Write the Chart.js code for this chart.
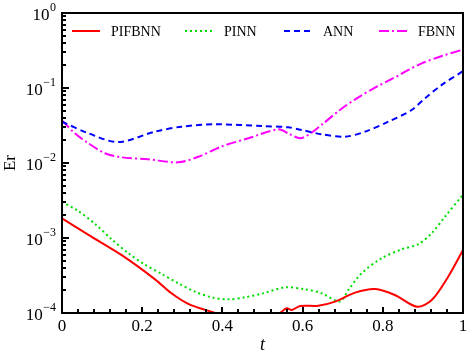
<!DOCTYPE html>
<html>
<head>
<meta charset="utf-8">
<script src="https://cdn.jsdelivr.net/npm/chart.js@4.4.0/dist/chart.umd.min.js"></script>
<style>
html,body{margin:0;padding:0;background:#fff;}
canvas{display:block;}
</style>
</head>
<body>
<canvas id="c" width="473" height="360"></canvas>
<script>
// ---- data ----
const seriesNames = ['PIFBNN', 'PINN', 'ANN', 'FBNN'];

const xPIFBNN = [0, 0.066, 0.149, 0.232, 0.273, 0.315, 0.357, 0.382, 0.42, 0.47, 0.51, 0.544, 0.56, 0.573, 0.594, 0.639, 0.681, 0.731, 0.781, 0.83, 0.885, 0.922, 0.963, 1.0];
const yPIFBNN = [1.83e-3, 1.10e-3, 5.9e-4, 2.81e-4, 1.83e-4, 1.32e-4, 1.10e-4, 1.0e-4, 7.6e-5, 6.6e-5, 7.5e-5, 1.0e-4, 1.16e-4, 1.10e-4, 1.24e-4, 1.25e-4, 1.42e-4, 1.87e-4, 2.09e-4, 1.74e-4, 1.21e-4, 1.49e-4, 3.05e-4, 6.9e-4];

const xPINN = [0, 0.04, 0.082, 0.124, 0.165, 0.207, 0.249, 0.29, 0.332, 0.373, 0.415, 0.456, 0.502, 0.556, 0.606, 0.648, 0.693, 0.714, 0.747, 0.797, 0.847, 0.889, 0.922, 0.955, 1.0];
const yPINN = [3.05e-3, 2.30e-3, 1.55e-3, 9.6e-4, 6.3e-4, 4.4e-4, 3.31e-4, 2.49e-4, 1.92e-4, 1.62e-4, 1.52e-4, 1.62e-4, 1.83e-4, 2.20e-4, 2.07e-4, 1.83e-4, 1.42e-4, 2.03e-4, 3.38e-4, 5.36e-4, 7.06e-4, 8.3e-4, 1.16e-3, 1.92e-3, 3.8e-3];

const xANN = [0, 0.066, 0.14, 0.232, 0.298, 0.382, 0.498, 0.564, 0.598, 0.648, 0.706, 0.756, 0.814, 0.872, 0.905, 0.947, 1.0];
const yANN = [0.0355, 0.0249, 0.019, 0.0262, 0.0305, 0.0328, 0.0311, 0.0299, 0.0275, 0.0241, 0.0224, 0.0262, 0.0356, 0.0509, 0.0728, 0.110, 0.168];

const xFBNN = [0, 0.032, 0.066, 0.107, 0.149, 0.215, 0.29, 0.34, 0.398, 0.465, 0.54, 0.566, 0.594, 0.618, 0.652, 0.693, 0.735, 0.785, 0.818, 0.864, 0.897, 0.947, 1.0];
const yFBNN = [0.037, 0.0249, 0.0183, 0.0135, 0.0119, 0.0112, 0.0102, 0.0121, 0.0166, 0.0214, 0.0282, 0.0245, 0.0214, 0.0244, 0.0338, 0.0509, 0.0729, 0.1042, 0.128, 0.174, 0.213, 0.267, 0.325];

const xTickValues = [0, 0.2, 0.4, 0.6, 0.8, 1];
const xTickLabels = ['0', '0.2', '0.4', '0.6', '0.8', '1'];
const yTickValues = [1, 1e-1, 1e-2, 1e-3, 1e-4];
const yTickExponents = ['0', '\u22121', '\u22122', '\u22123', '\u22124'];

// ---- styles ----
const colors = ['#ff0000', '#00dd00', '#0000ff', '#ff00ff'];
const dashes = [[], [2, 3], [6, 4], [10, 3, 2, 3]];
const SERIF = '"Liberation Serif", "Times New Roman", serif';

function pts(xs, ys) { return xs.map((x, i) => ({ x: x, y: ys[i] })); }
const allX = [xPIFBNN, xPINN, xANN, xFBNN];
const allY = [yPIFBNN, yPINN, yANN, yFBNN];

const datasets = seriesNames.map((n, i) => ({
  label: n,
  data: pts(allX[i], allY[i]),
  borderColor: colors[i],
  backgroundColor: colors[i],
  borderWidth: 2,
  borderDash: dashes[i],
  pointRadius: 0,
  tension: 0.3,
  fill: false,
  clip: 1
}));

const decor = {
  id: 'decor',
  afterDraw(chart) {
    const ctx = chart.ctx;
    const a = chart.chartArea;
    const xs = chart.scales.x, ys = chart.scales.y;
    ctx.save();
    // frame
    ctx.strokeStyle = '#000';
    ctx.lineWidth = 2;
    ctx.setLineDash([]);
    ctx.strokeRect(a.left, a.top, a.right - a.left, a.bottom - a.top);
    // x ticks (inward, bottom)
    ctx.lineWidth = 2;
    ctx.beginPath();
    for (let k = 0; k <= 25; k++) {
      const v = k * 0.04;
      const px = Math.round(xs.getPixelForValue(v)) ;
      const len = (k % 5 === 0) ? 6 : 4;
      ctx.moveTo(px, a.bottom);
      ctx.lineTo(px, a.bottom - len);
    }
    // y ticks (inward, left)
    for (let e = -4; e <= 0; e++) {
      const py = Math.round(ys.getPixelForValue(Math.pow(10, e)));
      ctx.moveTo(a.left, py); ctx.lineTo(a.left + 7, py);
      if (e < 0) {
        for (let m = 2; m <= 9; m++) {
          const q = Math.round(ys.getPixelForValue(m * Math.pow(10, e)));
          ctx.moveTo(a.left, q); ctx.lineTo(a.left + 4, q);
        }
      }
    }
    ctx.stroke();
    // x tick labels
    ctx.fillStyle = '#000';
    ctx.font = '17px ' + SERIF;
    ctx.textAlign = 'center';
    ctx.textBaseline = 'middle';
    xTickValues.forEach((v, i) => {
      ctx.fillText(xTickLabels[i], xs.getPixelForValue(v), a.bottom + 14);
    });
    // y tick labels 10^e
    yTickValues.forEach((v, i) => {
      const py = ys.getPixelForValue(v);
      ctx.font = '12px ' + SERIF;
      const ew = ctx.measureText(yTickExponents[i]).width;
      const right = a.left - 6;
      ctx.textAlign = 'left';
      ctx.textBaseline = 'alphabetic';
      ctx.fillText(yTickExponents[i], right - ew, py - 2);
      ctx.font = '17px ' + SERIF;
      ctx.textAlign = 'right';
      ctx.textBaseline = 'middle';
      ctx.fillText('10', right - ew - 0.5, py + 3);
    });
    // axis titles
    ctx.font = 'italic 18px ' + SERIF;
    ctx.textAlign = 'center';
    ctx.textBaseline = 'middle';
    ctx.fillText('t', (a.left + a.right) / 2, a.bottom + 32);
    ctx.save();
    ctx.translate(11, 163);
    ctx.rotate(-Math.PI / 2);
    ctx.font = '17px ' + SERIF;
    ctx.fillText('Er', 0, 0);
    ctx.restore();
    // legend
    const lx = [72, 185, 284, 379];
    const ly = a.top + 18;
    ctx.font = '14px ' + SERIF;
    ctx.textAlign = 'left';
    ctx.textBaseline = 'middle';
    chart.data.datasets.forEach((d, i) => {
      ctx.beginPath();
      ctx.strokeStyle = d.borderColor;
      ctx.lineWidth = 2;
      ctx.setLineDash(d.borderDash);
      ctx.moveTo(lx[i], ly);
      ctx.lineTo(lx[i] + 28, ly);
      ctx.stroke();
      ctx.setLineDash([]);
      ctx.fillStyle = '#000';
      ctx.fillText(d.label, lx[i] + 39, ly + 1);
    });
    ctx.restore();
  }
};

new Chart(document.getElementById('c'), {
  type: 'line',
  data: { datasets: datasets },
  options: {
    responsive: false,
    devicePixelRatio: 1,
    animation: false,
    layout: { padding: { left: 62, top: 13, right: 10, bottom: 47 } },
    plugins: { legend: { display: false }, tooltip: { enabled: false } },
    scales: {
      x: { type: 'linear', min: 0, max: 1, display: false },
      y: { type: 'logarithmic', min: 1e-4, max: 1, display: false }
    }
  },
  plugins: [decor]
});
</script>
</body>
</html>
